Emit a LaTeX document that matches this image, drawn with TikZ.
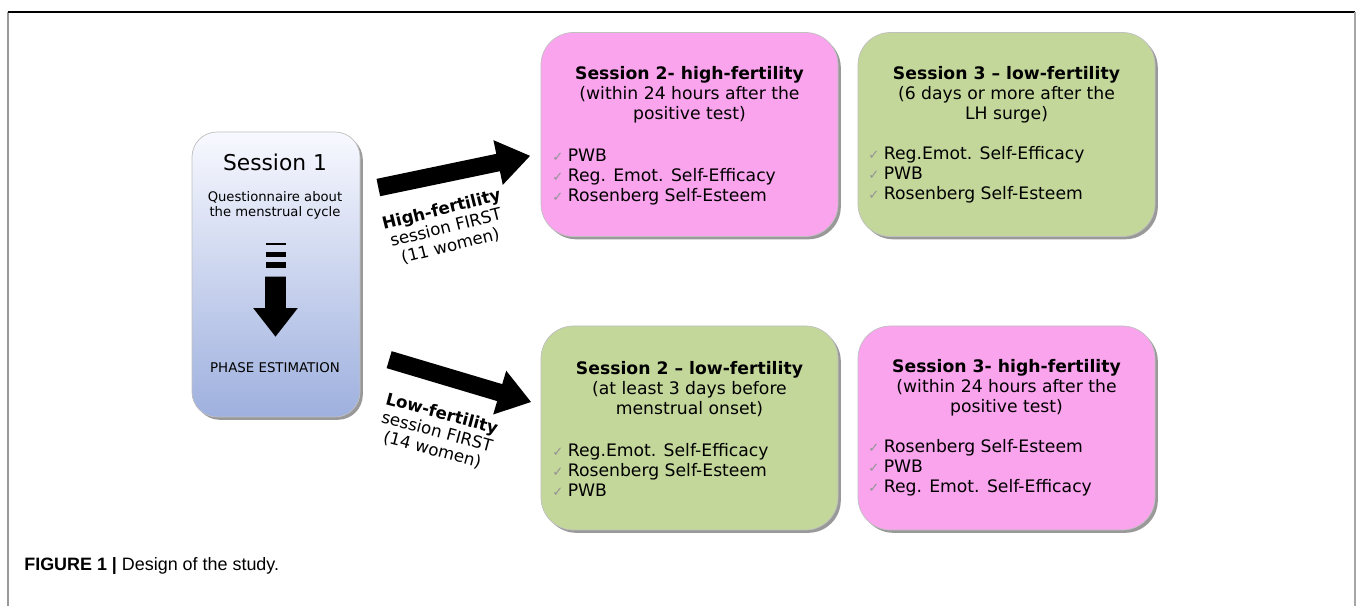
\documentclass[tikz,border=0pt]{standalone}
\usepackage{fontspec}
\setmainfont{DejaVu Sans}
\newfontfamily\capfont{Liberation Sans}
\usetikzlibrary{shapes.arrows, shadows, positioning}
\definecolor{hifert}{RGB}{250,164,238}
\definecolor{lofert}{RGB}{196,215,155}
\definecolor{sesstop}{RGB}{248,249,255}
\definecolor{sessbot}{RGB}{158,176,222}
\newcommand{\chk}{{\color{gray!85}\fontsize{7.5}{7.5}\selectfont ✓}\hspace{2.5pt}}

\tikzset{
  sbox/.style={draw=gray!50, line width=0.4pt, rounded corners=6.5mm,
    minimum width=59.4mm, minimum height=40.8mm,
    drop shadow={shadow xshift=1.6pt, shadow yshift=-1.6pt, opacity=0.4, fill=black}},
  pinkbox/.style={sbox, fill=hifert},
  greenbox/.style={sbox, fill=lofert},
  stitle/.style={align=center, inner sep=0, font=\fontsize{9.8}{11.4}\selectfont},
  slist/.style={align=left, inner sep=0, anchor=west, font=\fontsize{9.8}{11.4}\selectfont},
  bigarrow/.style={single arrow, fill=black, inner sep=1.7mm,
    single arrow head extend=2.8mm, single arrow tip angle=70},
  alabel/.style={align=center, inner sep=0, font=\fontsize{9.5}{10.6}\selectfont}
}

\begin{document}
\begin{tikzpicture}[x=0.2mm, y=-0.2mm]
  \useasboundingbox (0,0) rectangle (1358,606);

  % frame of the figure
  \draw[gray!80, line width=0.8pt] (8,606) -- (8,12);
  \draw[black, line width=0.8pt] (8,12) -- (1355,12);
  \draw[gray!70, line width=1.4pt] (1355,12) -- (1355,606);

  % Session 1
  \node[draw=gray!50, rounded corners=5mm, top color=sesstop, bottom color=sessbot,
    minimum width=33.6mm, minimum height=57mm,
    drop shadow={shadow xshift=1.6pt, shadow yshift=-1.6pt, opacity=0.4, fill=black}]
    (sess1) at (276,274.5) {};
  \node[inner sep=0, font=\fontsize{12.4}{14}\selectfont] (sess1title) at (275,162) {Session 1};
  \node[inner sep=0, align=center, font=\fontsize{7.5}{8.6}\selectfont] (quest) at (275,205)
    {Questionnaire about\\the menstrual cycle};
  \foreach \ya/\yb in {242.7/245.5, 252.5/257, 261.7/268.3}
    \fill (265.5,\ya) rectangle (285.5,\yb);
  \node[single arrow, fill=black, inner sep=2mm, rotate=-90, minimum height=12mm,
    single arrow head extend=2.4mm, single arrow tip angle=76] (phasearr) at (275.5,300) {};
  \node[inner sep=0, font=\fontsize{7.6}{9}\selectfont] (phase) at (275,368) {PHASE ESTIMATION};

  % arrows to the two orders
  \node[bigarrow, rotate=11.8, minimum height=31mm] (hiarr) at (448,173) {};
  \node[bigarrow, rotate=-16.6, minimum height=29.6mm] (loarr) at (454,379) {};
  \node[alabel, rotate=14] (hilabel) at (446,228)
    {\textbf{High-fertility}\\session FIRST\\(11 women)};
  \node[alabel, rotate=-15] (lolabel) at (437,432)
    {\textbf{Low-fertility}\\session FIRST\\(14 women)};

  % high-fertility first
  \node[pinkbox] (s2high) at (689.5,134.5) {};
  \node[stitle] (s2hightitle) at (689.5,95)
    {\textbf{Session 2- high-fertility}\\(within 24 hours after the\\positive test)};
  \node[slist] (s2highlist) at (552,177)
    {\chk PWB\\\chk Reg. Emot. Self-Efficacy\\\chk Rosenberg Self-Esteem};

  \node[greenbox] (s3low) at (1006.5,134.5) {};
  \node[stitle] (s3lowtitle) at (1006.5,95)
    {\textbf{Session 3 -- low-fertility}\\(6 days or more after the\\LH surge)};
  \node[slist] (s3lowlist) at (868,175)
    {\chk Reg.Emot. Self-Efficacy\\\chk PWB\\\chk Rosenberg Self-Esteem};

  % low-fertility first
  \node[greenbox] (s2low) at (689.5,428) {};
  \node[stitle] (s2lowtitle) at (689.5,389)
    {\textbf{Session 2 -- low-fertility}\\(at least 3 days before\\menstrual onset)};
  \node[slist] (s2lowlist) at (552,470)
    {\chk Reg.Emot. Self-Efficacy\\\chk Rosenberg Self-Esteem\\\chk PWB};

  \node[pinkbox] (s3high) at (1006.5,428) {};
  \node[stitle] (s3hightitle) at (1006.5,388)
    {\textbf{Session 3- high-fertility}\\(within 24 hours after the\\positive test)};
  \node[slist] (s3highlist) at (868,468)
    {\chk Rosenberg Self-Esteem\\\chk PWB\\\chk Reg. Emot. Self-Efficacy};

  % caption
  \node[anchor=west, inner sep=0, font=\capfont\fontsize{10.2}{12}\selectfont] (caption) at (24,566)
    {\textbf{FIGURE 1 |} Design of the study.};
\end{tikzpicture}
\end{document}
